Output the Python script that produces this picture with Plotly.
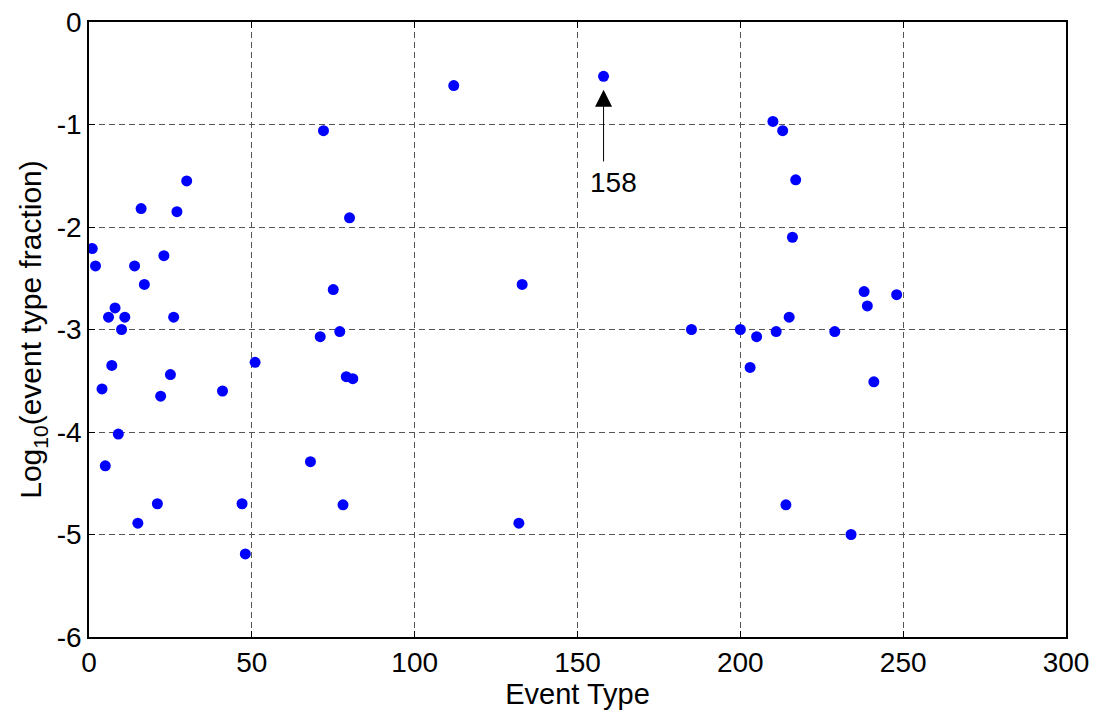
import plotly.graph_objects as go

event_type = [1, 2, 4, 5, 6, 7, 8, 10, 9, 11, 14, 15, 16, 17, 21, 22, 23, 25, 26, 27, 30,
              41, 47, 48, 51, 68, 71, 72, 75, 77, 78, 79, 80, 81,
              112, 132, 133, 158,
              185, 200, 203, 205, 210, 211, 213, 214, 215, 216, 217, 229, 234, 238, 239, 241, 248]
log_fraction = [-2.21, -2.38, -3.58, -4.33, -2.88, -3.35, -2.79, -3.00, -4.02, -2.88, -2.38, -4.89,
                -1.82, -2.56, -4.70, -3.65, -2.28, -3.44, -2.88, -1.85, -1.55,
                -3.60, -4.70, -5.19, -3.32, -4.29, -3.07, -1.06, -2.61, -3.02, -4.71, -3.46, -1.91, -3.48,
                -0.62, -4.89, -2.56, -0.53,
                -3.00, -3.00, -3.37, -3.07, -0.97, -3.02, -1.06, -4.71, -2.88, -2.10, -1.54, -3.02,
                -5.00, -2.63, -2.77, -3.51, -2.66]

x_ticks = [0, 50, 100, 150, 200, 250, 300]
y_ticks = [-6, -5, -4, -3, -2, -1, 0]

highlight_x = 158
highlight_y = -0.53
highlight_label = "158"

FONT = "Liberation Sans, Arial"

fig = go.Figure()
fig.add_trace(go.Scatter(
    x=event_type, y=log_fraction, mode="markers",
    marker=dict(color="#0000FF", size=11, line=dict(width=0)),
    showlegend=False,
))

fig.add_annotation(
    x=highlight_x, y=highlight_y - 0.13, ax=highlight_x, ay=-1.375,
    xref="x", yref="y", axref="x", ayref="y",
    text="", showarrow=True, arrowhead=2, arrowsize=3.4, arrowwidth=1,
    arrowcolor="black",
)
fig.add_annotation(
    x=highlight_x + 3.2, y=-1.57, xref="x", yref="y",
    text=highlight_label, showarrow=False,
    font=dict(family=FONT, size=28, color="black"),
)

axis_common = dict(
    showline=True, linecolor="black", linewidth=1.5, mirror="ticks",
    ticks="inside", ticklen=6, tickcolor="black", tickwidth=1,
    showgrid=True, gridcolor="#555555", gridwidth=1, griddash="6px,4px",
    zeroline=False, ticklabeloverflow="allow", automargin=False,
    tickfont=dict(family=FONT, size=28, color="black"),
)

fig.update_xaxes(
    range=[0, 300], tickvals=x_ticks, ticktext=[str(v) for v in x_ticks],
    title=dict(text="Event Type", font=dict(family=FONT, size=29, color="black"), standoff=6),
    **axis_common,
)
fig.update_yaxes(
    range=[-6, 0], tickvals=y_ticks, ticktext=[str(v) for v in y_ticks],
    title=dict(text="Log<sub>10</sub>(event type fraction)", font=dict(family=FONT, size=30, color="black"), standoff=6),
    **axis_common,
)

fig.update_layout(
    width=1099, height=726,
    margin=dict(l=81, r=41, t=14, b=97),
    plot_bgcolor="white", paper_bgcolor="white",
)

fig.write_html("out.html")
